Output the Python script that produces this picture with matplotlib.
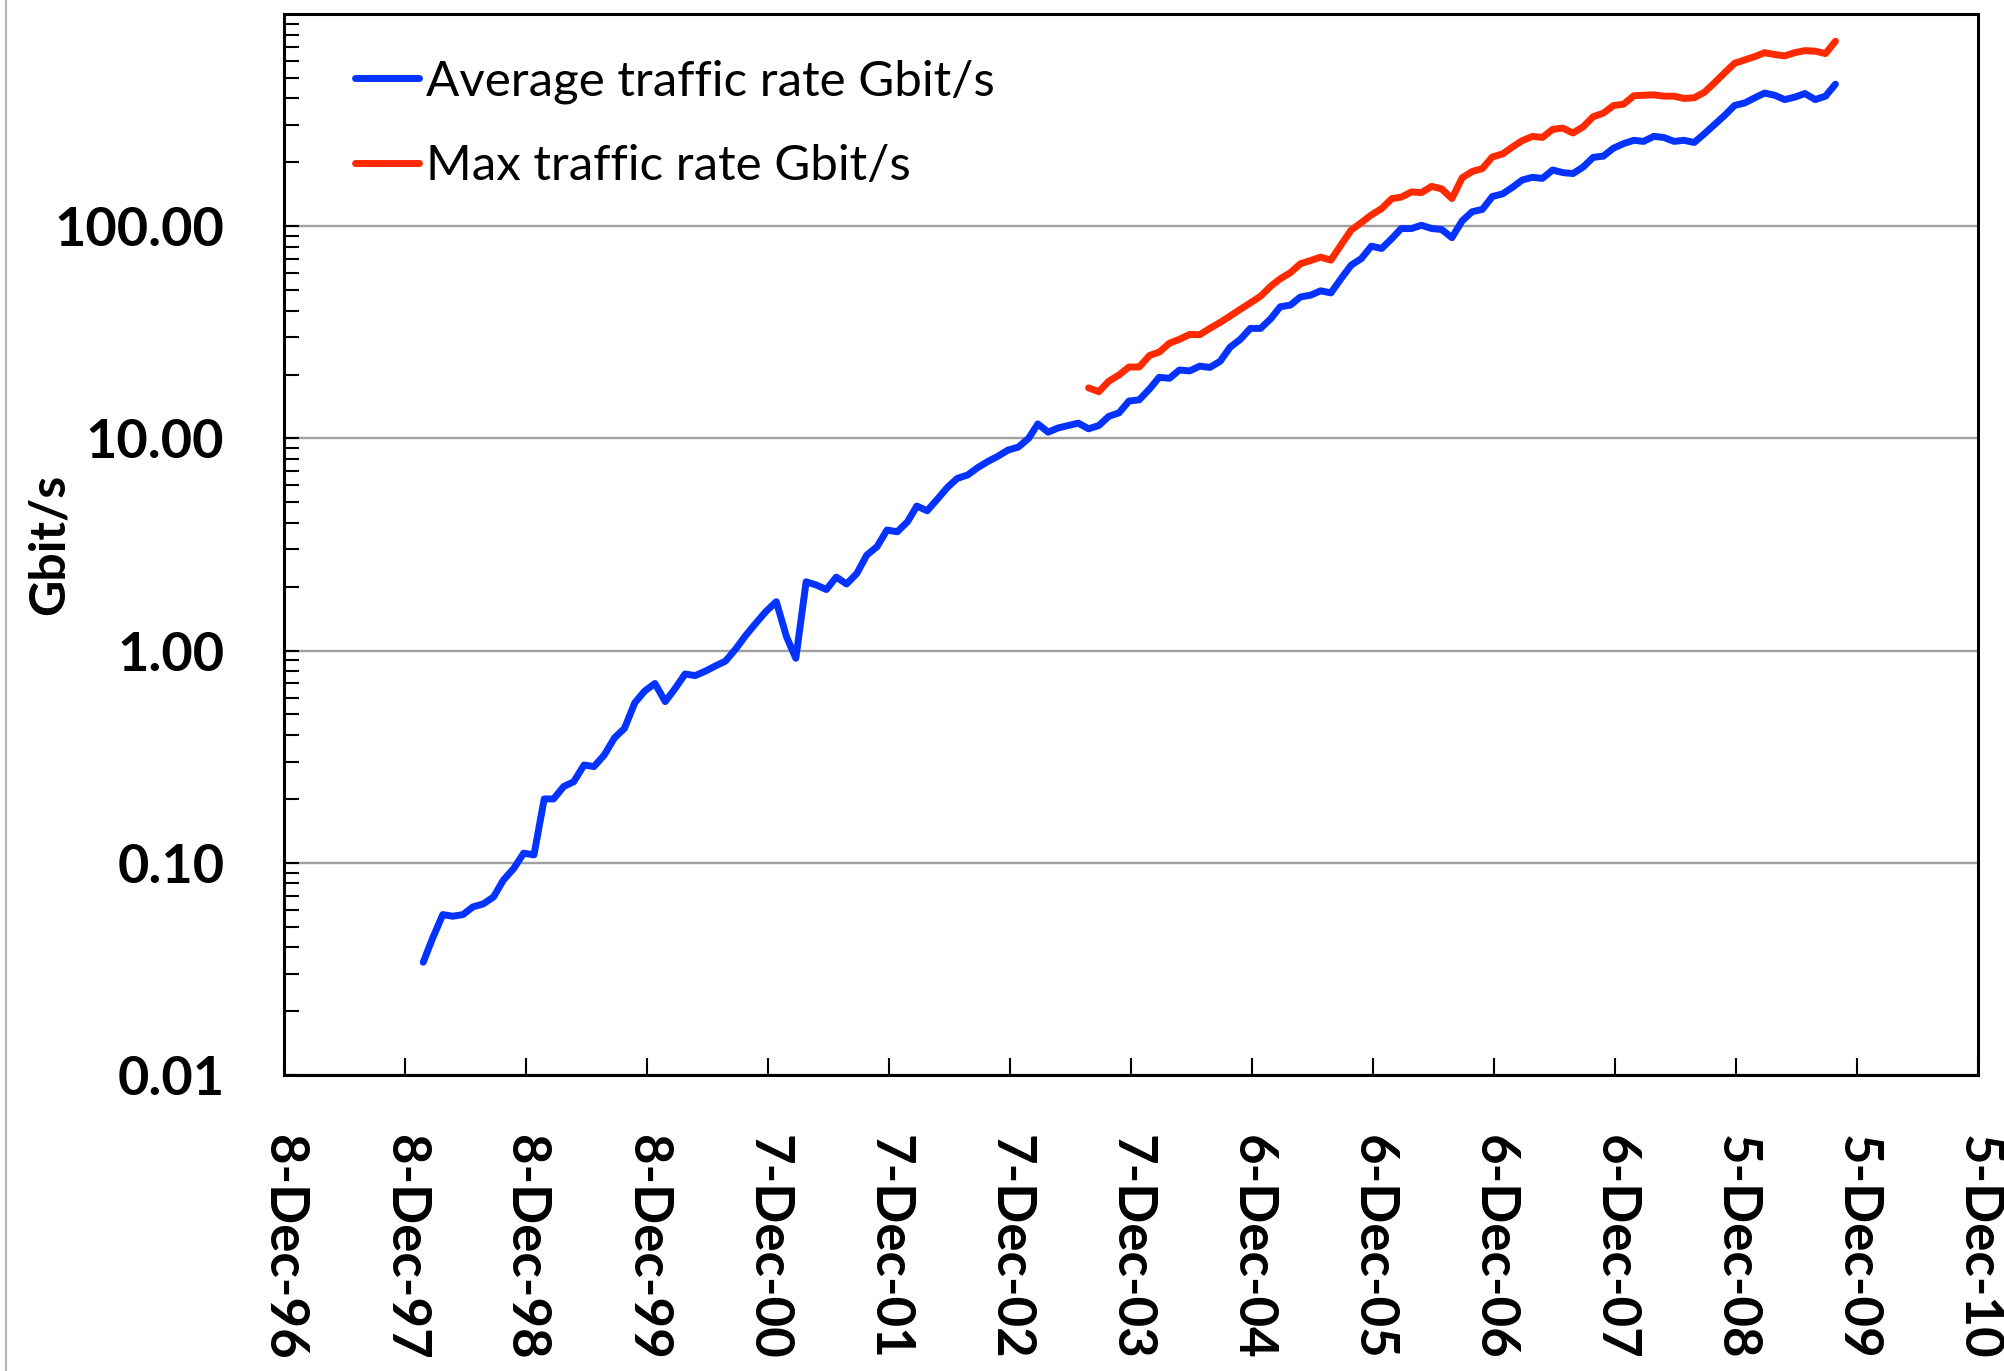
import matplotlib
matplotlib.use("Agg")
import matplotlib.pyplot as plt
from matplotlib.ticker import LogLocator, NullFormatter
from matplotlib.lines import Line2D
import pandas as pd

plt.rcParams["font.family"] = ["Lato", "DejaVu Sans"]

# monthly values (Gbit/s)
avg_start = "1998-02-01"
avg_rate = [
    0.034, 0.044, 0.057, 0.056, 0.057, 0.062, 0.064, 0.069, 0.083, 0.094, 0.111,
    0.109, 0.20, 0.20, 0.229, 0.241, 0.289, 0.284, 0.322, 0.388, 0.43, 0.567, 0.645,
    0.70, 0.575, 0.66, 0.776, 0.762, 0.80, 0.846, 0.893, 1.02, 1.18, 1.35, 1.53,
    1.70, 1.16, 0.92, 2.11, 2.04, 1.94, 2.22, 2.06, 2.31, 2.82, 3.09, 3.70,
    3.63, 4.05, 4.80, 4.56, 5.15, 5.87, 6.48, 6.72, 7.29, 7.78, 8.25, 8.81,
    9.10, 10.0, 11.7, 10.7, 11.2, 11.5, 11.8, 11.1, 11.5, 12.7, 13.2, 15.0,
    15.2, 17.1, 19.4, 19.2, 21.0, 20.8, 21.9, 21.6, 23.1, 26.9, 29.3, 33.0,
    33.0, 36.7, 41.7, 42.5, 46.4, 47.3, 49.6, 48.5, 56.7, 65.5, 70.4, 80.5,
    78.5, 87.5, 97.5, 97.5, 101, 97.5, 96.5, 88.3, 106, 117, 120, 138,
    142, 153, 165, 170, 168, 184, 179, 177, 190, 211, 214, 233,
    245, 254, 251, 265, 262, 251, 254, 248, 273, 301, 333, 371,
    381, 404, 424, 414, 395, 406, 422, 395, 410, 467,
]

max_start = "2003-08-01"
max_rate = [
    17.3, 16.6, 18.6, 19.9, 21.7,
    21.7, 24.6, 25.5, 28.1, 29.3, 30.9, 30.8, 33.0, 35.2, 37.7, 40.6, 43.5,
    46.8, 52.2, 56.5, 60.4, 66.5, 68.9, 71.5, 69.2, 81.8, 95.8, 104, 113,
    121, 135, 137, 145, 144, 154, 150, 135, 169, 181, 187, 212,
    219, 237, 253, 265, 262, 286, 290, 275, 294, 328, 341, 370,
    376, 412, 414, 416, 410, 410, 400, 403, 428, 474, 529, 586,
    608, 631, 657, 644, 635, 658, 672, 668, 651, 744,
]

tick_dates = ["1996-12-08", "1997-12-08", "1998-12-08", "1999-12-08", "2000-12-07",
              "2001-12-07", "2002-12-07", "2003-12-07", "2004-12-06", "2005-12-06",
              "2006-12-06", "2007-12-06", "2008-12-05", "2009-12-05", "2010-12-05"]
y_ticks = [0.01, 0.1, 1, 10, 100]
y_labels = ["0.01", "0.10", "1.00", "10.00", "100.00"]

avg_dates = pd.date_range(avg_start, periods=len(avg_rate), freq="MS")
max_dates = pd.date_range(max_start, periods=len(max_rate), freq="MS")
ticks = pd.to_datetime(tick_dates)

W, H = 2004, 1371
fig = plt.figure(figsize=(W / 100, H / 100), dpi=100)
ax = fig.add_axes([284 / W, 1 - 1075 / H, 1694 / W, 1061 / H])

ax.plot(avg_dates, avg_rate, color="#0433ff", lw=5, solid_joinstyle="round",
        solid_capstyle="round", label="Average traffic rate Gbit/s", zorder=3)
ax.plot(max_dates, max_rate, color="#ff2a00", lw=5, solid_joinstyle="round",
        solid_capstyle="round", label="Max traffic rate Gbit/s", zorder=3)

ax.set_yscale("log")
ax.set_ylim(0.01, 1000)
ax.set_yticks(y_ticks, labels=y_labels, fontsize=39, fontweight="bold")
ax.yaxis.set_minor_locator(LogLocator(base=10, subs=range(2, 10), numticks=20))
ax.yaxis.set_minor_formatter(NullFormatter())
ax.grid(axis="y", which="major", color="#a0a0a0", lw=1.7)
ax.set_axisbelow(True)

ax.set_xlim(ticks[0], ticks[-1])
ax.set_xticks(ticks, labels=[f"{d.day}-{d:%b-%y}" for d in ticks],
              fontsize=38, fontweight="bold", rotation=270, ha="center", va="top")
ax.tick_params(axis="y", which="both", direction="in", length=11, width=1.5, pad=43)
ax.tick_params(axis="x", direction="in", length=12, width=1.5, pad=43)

for s in ax.spines.values():
    s.set_linewidth(2.2)
    s.set_color("black")

ax.legend(loc="upper left", bbox_to_anchor=(355 / W, 1 - 59 / H),
          bbox_transform=fig.transFigure, frameon=False, fontsize=35.5,
          handlelength=1.3, handletextpad=0.15, labelspacing=0.83,
          borderpad=0, borderaxespad=0)

fig.text(49 / W, 1 - 544 / H, "Gbit/s", rotation=90, ha="center", va="center",
         fontsize=36, fontweight="bold")

# thin grey frame line at the far left
fig.add_artist(Line2D([6 / W, 6 / W], [0, 1], color="#b4b4b4", lw=1.5,
                      transform=fig.transFigure))

fig.savefig("out.png", dpi=100)
